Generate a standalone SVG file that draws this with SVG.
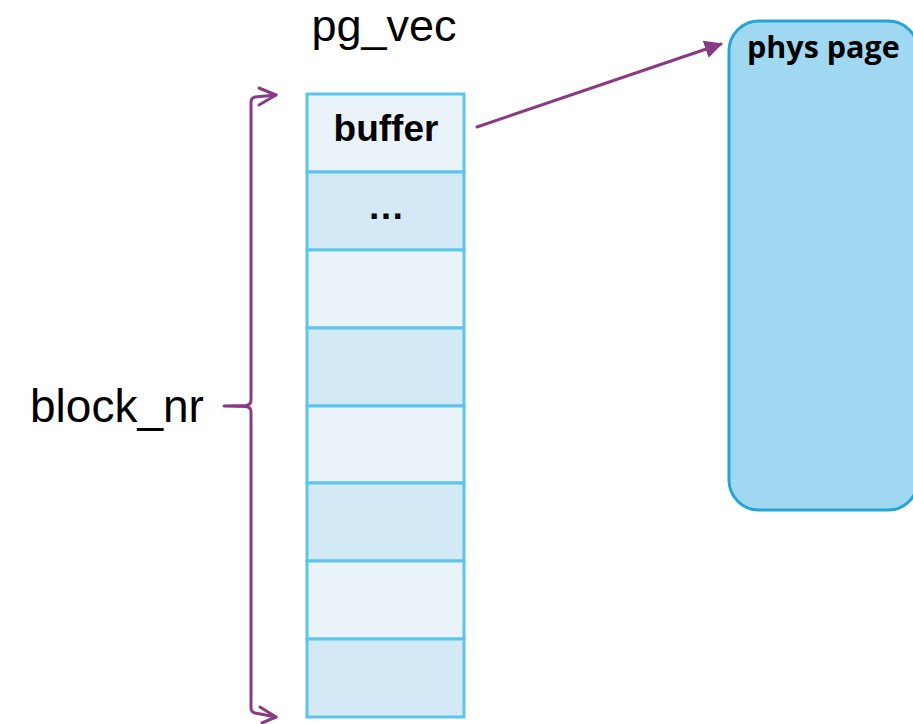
<svg xmlns="http://www.w3.org/2000/svg" width="913" height="724" viewBox="0 0 913 724">
  <style>
    .cell-a { fill: #eaf2fa; stroke: #5bc6ea; stroke-width: 3; }
    .cell-b { fill: #d3e9f5; stroke: #5bc6ea; stroke-width: 3; }
    .label { font-family: "Liberation Sans", Arial, sans-serif; fill: #000; }
    .bold { font-weight: bold; }
    .purple { fill: none; stroke: #8a3a85; stroke-width: 3; stroke-linecap: round; stroke-linejoin: round; }
  </style>
  <defs>
    <marker id="head" viewBox="0 0 10 10" refX="9" refY="5" markerWidth="6" markerHeight="6" markerUnits="strokeWidth" orient="auto">
      <path d="M0,0 L10,5 L0,10 Z" fill="#8a3a85"/>
    </marker>
  </defs>

  <!-- titles -->
  <text class="label" x="384" y="41" font-size="45" text-anchor="middle">pg_vec</text>
  <text class="label" x="30" y="422" font-size="46">block_nr</text>

  <!-- pg_vec array -->
  <g id="pg_vec">
    <g id="slot0">
      <rect class="cell-a" x="307" y="94" width="157" height="78"/>
      <text class="label bold" x="386" y="141" font-size="37" text-anchor="middle">buffer</text>
    </g>
    <g id="slot1">
      <rect class="cell-b" x="307" y="172" width="157" height="78"/>
      <text class="label bold" x="386" y="219" font-size="37" text-anchor="middle">…</text>
    </g>
    <g id="slot2"><rect class="cell-a" x="307" y="250" width="157" height="78"/></g>
    <g id="slot3"><rect class="cell-b" x="307" y="328" width="157" height="78"/></g>
    <g id="slot4"><rect class="cell-a" x="307" y="406" width="157" height="77"/></g>
    <g id="slot5"><rect class="cell-b" x="307" y="483" width="157" height="78"/></g>
    <g id="slot6"><rect class="cell-a" x="307" y="561" width="157" height="78"/></g>
    <g id="slot7"><rect class="cell-b" x="307" y="639" width="157" height="78"/></g>
  </g>

  <!-- physical page -->
  <g id="phys_page">
    <rect x="729" y="21" width="189" height="489" rx="30" ry="30" fill="#a0d8f1" stroke="#25a5d6" stroke-width="3"/>
    <text x="747" y="58" font-family="'Open Sans', 'Liberation Sans', sans-serif" font-weight="bold" font-size="30.5">phys page</text>
  </g>

  <!-- connectors -->
  <g id="connectors">
    <!-- brace spanning block_nr entries -->
    <path class="purple" d="M276,95 L255,97 Q251,98 251,102 L251,400 Q251,405 246,405.5 L224,406 L246,406.5 Q251,407 251,412 L251,708 Q251,712 255,713 L276,717"/>
    <polyline class="purple" points="259,88 276,95 259,105"/>
    <polyline class="purple" points="260,707 276,717 262,723"/>
    <!-- buffer points to the physical page -->
    <line class="purple" x1="477" y1="127" x2="721" y2="44" stroke-width="2.5" marker-end="url(#head)"/>
  </g>
</svg>
